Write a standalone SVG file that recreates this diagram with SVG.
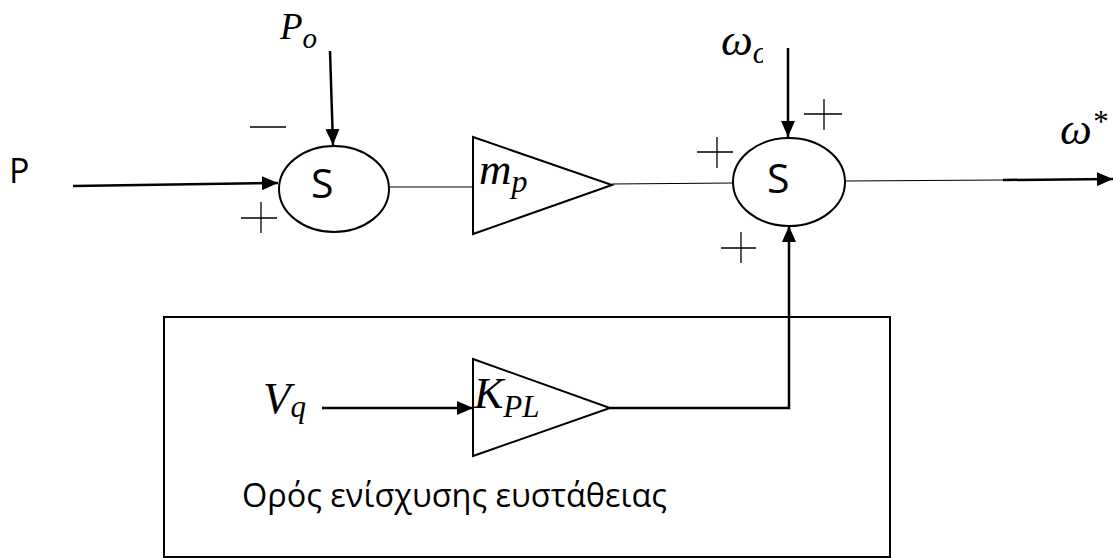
<svg xmlns="http://www.w3.org/2000/svg" width="1113" height="558" viewBox="0 0 1113 558">
<style>
.sans{font-family:"Open Sans","Noto Sans","DejaVu Sans",sans-serif;fill:#000}
.math{font-family:"Liberation Serif","DejaVu Serif",serif;font-style:italic;fill:#000}
.thick{stroke:#000;stroke-width:2.5;fill:none}
.shape{stroke:#000;stroke-width:2;fill:#fff}
.thin{stroke:#000;stroke-width:1.2;fill:none}
.sign{stroke:#000;stroke-width:1.3;fill:none}
</style>
<defs>
<marker id="arr" viewBox="0 0 16 14" refX="16" refY="7" markerWidth="16" markerHeight="14" markerUnits="userSpaceOnUse" orient="auto">
<path d="M0,0 L16,7 L0,14 Z" fill="#000"/>
</marker>
<clipPath id="clipW"><rect x="0" y="0" width="763" height="558"/></clipPath>
</defs>
<rect width="1113" height="558" fill="#fff"/>

<g id="stab-box">
<rect x="164" y="317" width="726" height="240" fill="none" stroke="#000" stroke-width="2"/>
<text class="sans" x="242" y="507" font-size="32" textLength="425" lengthAdjust="spacingAndGlyphs">Ορός ενίσχυσης ευστάθειας</text>
</g>

<g id="connectors">
<line class="thick" x1="73" y1="186" x2="278" y2="183" marker-end="url(#arr)"/>
<line class="thick" x1="330" y1="51" x2="333" y2="145" marker-end="url(#arr)"/>
<line class="thin" x1="389" y1="187" x2="473" y2="187"/>
<line class="thin" x1="612" y1="184" x2="733" y2="183"/>
<line class="thick" x1="788" y1="48" x2="788" y2="137" marker-end="url(#arr)"/>
<line class="thin" x1="845" y1="181" x2="1003" y2="180"/>
<line class="thick" x1="1003" y1="180" x2="1113" y2="179" marker-end="url(#arr)"/>
<line class="thick" x1="322" y1="408" x2="473" y2="408" marker-end="url(#arr)"/>
<path class="thick" d="M610,408 H789 V226" marker-end="url(#arr)"/>
</g>

<g id="input-P">
<text class="sans" x="9" y="183" font-size="34">P</text>
</g>
<g id="input-Po">
<text class="math" x="280" y="39" font-size="37">P<tspan font-size="29" dy="9">o</tspan></text>
</g>
<g id="sum1">
<ellipse class="shape" cx="334" cy="189" rx="55" ry="43"/>
<text class="sans" x="311" y="198" font-size="41">S</text>
<line class="sign" x1="250" y1="127" x2="286" y2="127"/>
<line class="sign" x1="241" y1="218" x2="277" y2="218"/>
<line class="sign" x1="261" y1="202" x2="261" y2="233"/>
</g>
<g id="gain-mp">
<polygon class="shape" points="473,137 612,185 473,234"/>
<text class="math" x="479" y="184" font-size="45">m<tspan font-size="32" dy="8">p</tspan></text>
</g>
<g id="input-wo" clip-path="url(#clipW)">
<text class="math" x="721" y="55" font-size="45">ω<tspan font-size="31" dy="8">o</tspan></text>
</g>
<g id="sum2">
<ellipse class="shape" cx="789" cy="182" rx="56" ry="44"/>
<text class="sans" x="767" y="193" font-size="41">S</text>
<line class="sign" x1="804" y1="114" x2="842" y2="114"/>
<line class="sign" x1="824" y1="99" x2="824" y2="130"/>
<line class="sign" x1="697" y1="152" x2="733" y2="152"/>
<line class="sign" x1="717" y1="137" x2="717" y2="168"/>
<line class="sign" x1="721" y1="248" x2="756" y2="248"/>
<line class="sign" x1="741" y1="232" x2="741" y2="263"/>
</g>
<g id="output-w">
<text class="math" x="1060" y="144" font-size="45">ω<tspan font-size="31" dy="-12">*</tspan></text>
</g>
<g id="input-Vq">
<text class="math" x="263" y="413" font-size="45">V<tspan font-size="31" dy="4">q</tspan></text>
</g>
<g id="gain-kpl">
<polygon class="shape" points="473,359 610,408 473,456"/>
<text class="math" x="474" y="408" font-size="44">K<tspan font-size="31" dy="9">PL</tspan></text>
</g>
</svg>
